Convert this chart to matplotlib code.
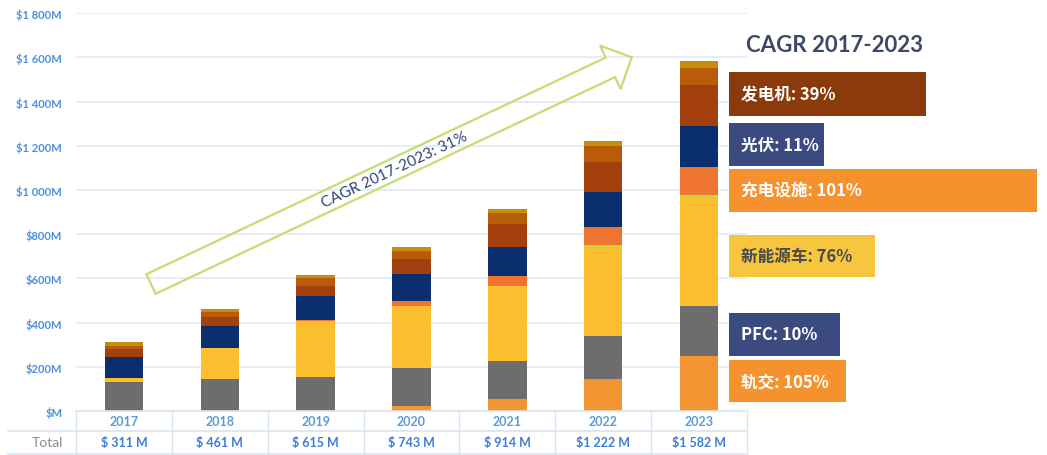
import numpy as np
import matplotlib
matplotlib.use("Agg")
import matplotlib.pyplot as plt
from matplotlib.patches import Rectangle, Polygon
from matplotlib.lines import Line2D
from matplotlib import transforms

plt.rcParams['font.family'] = ['Lato', 'Noto Sans CJK SC', 'DejaVu Sans']

# ---- data (US$ M) ----
years = ["2017", "2018", "2019", "2020", "2021", "2022", "2023"]
rail = [0, 0, 4, 24, 54, 144, 250]            # 轨交
pfc = [132, 144, 148, 169, 173, 196, 226]      # PFC
nev = [18, 139, 256, 280, 337, 403, 490]       # 新能源车
other = [0, 0, 0, 0, 0, 8, 12]                 # 其他
charging = [0, 0, 3, 26, 48, 80, 124]          # 充电设施
pv = [95, 103, 107, 121, 131, 161, 188]        # 光伏
gen_a = [33, 37, 47, 67, 103, 137, 186]        # 发电机 (a)
gen_b = [18, 26, 36, 38, 50, 71, 75]           # 发电机 (b)
gen_c = [15, 12, 14, 18, 18, 22, 31]           # 发电机 (c)

series = [rail, pfc, nev, other, charging, pv, gen_a, gen_b, gen_c]
series_colors = ["#F39433", "#6D6D6D", "#FBBE2E", "#C3D83C", "#EE7430",
                 "#0B2F6E", "#A3400D", "#B85C0A", "#C68E0C"]

cagr_names = ["发电机", "光伏", "充电设施", "新能源车", "PFC", "轨交"]
cagr_values = [39, 11, 101, 76, 10, 105]

totals = np.sum(np.array(series), axis=0)

# ---- figure ----
W, H = 1047, 456
fig = plt.figure(figsize=(W / 100, H / 100), dpi=100)
fig.patch.set_facecolor("white")


def fx(px):
    return px / W


def fy(py):
    return 1 - py / H


ax_left, ax_right, ax_top, ax_bottom = 76, 747, 14.3, 411.9
ax = fig.add_axes([fx(ax_left), fy(ax_bottom), fx(ax_right - ax_left),
                   (ax_bottom - ax_top) / H])
ax.set_xlim(-0.5, len(years) - 0.5)
ax.set_ylim(0, 1800)
for s in ax.spines.values():
    s.set_visible(False)
ax.set_xticks([])
yt = list(range(0, 1801, 200))
ax.set_yticks(yt)


def money(v):
    if v == 0:
        return "\\$M"
    if v >= 1000:
        return "\\$1 %03dM" % (v - 1000)
    return "\\$%dM" % v


ax.set_yticklabels([money(v) for v in yt])
ax.tick_params(axis="y", length=0, pad=10, labelsize=8, labelcolor="#4A8FE0")
for lab in ax.get_yticklabels():
    lab.set_fontweight("bold")
for v in yt[1:]:
    ax.axhline(v, color="#E4EEF8", lw=1.4, zorder=0)

x = np.arange(len(years))
bottom = np.zeros(len(years))
for vals, col in zip(series, series_colors):
    ax.bar(x, vals, bottom=bottom, width=0.4, color=col, linewidth=0, zorder=2)
    bottom += np.array(vals)

# ---- table under the bars ----
line_col = "#D8E5F3"
col_w = (ax_right - ax_left) / len(years)
fig.add_artist(Line2D([fx(ax_left), fx(ax_right)], [fy(ax_bottom)] * 2,
                      color=line_col, lw=1.2, transform=fig.transFigure))
for yy in (431.7, 455):
    fig.add_artist(Line2D([fx(8), fx(ax_right)], [fy(yy)] * 2,
                          color=line_col, lw=1.2, transform=fig.transFigure))
for k in range(len(years) + 1):
    xx = ax_left + k * col_w
    fig.add_artist(Line2D([fx(xx)] * 2, [fy(ax_bottom), fy(456)],
                          color=line_col, lw=1.0, transform=fig.transFigure))

tr = transforms.blended_transform_factory(ax.transData, fig.transFigure)


def total_label(v):
    v = int(round(v))
    if v >= 1000:
        return "\\$%d %03d M" % (v // 1000, v % 1000)
    return "\\$ %d M" % v


for i, yr in enumerate(years):
    fig.text(i, fy(421.7), yr, transform=tr, ha="center", va="center",
             fontsize=9, color="#5C9BDB", fontweight="bold")
    fig.text(i, fy(443.5), total_label(totals[i]), transform=tr, ha="center",
             va="center", fontsize=9, color="#3B7DD8", fontweight="bold")
fig.text(fx(47), fy(443.5), "Total", ha="center", va="center", fontsize=10,
         color="#8C8C8C")

# ---- overall growth arrow ----
def to_fig(pts):
    return [(fx(px), fy(py)) for px, py in pts]


tail = np.array([151.0, 285.0])
tip = np.array([631.7, 58.3])
u = (tip - tail) / np.linalg.norm(tip - tail)
n = np.array([-u[1], u[0]])
shaft_hw, head_hw, head_len = 10.8, 24.0, 23.6
base = tip - u * head_len
arrow_pts = [tail - n * shaft_hw, base - n * shaft_hw, base - n * head_hw, tip,
             base + n * head_hw, base + n * shaft_hw, tail + n * shaft_hw]
fig.add_artist(Polygon(to_fig(arrow_pts), closed=True, facecolor="none",
                       edgecolor="#C9DB72", lw=1.6, transform=fig.transFigure,
                       zorder=5))
cagr_total = (totals[-1] / totals[0]) ** (1 / (len(years) - 1)) - 1
angle = np.degrees(np.arctan2(-(tip[1] - tail[1]), tip[0] - tail[0]))
fig.text(fx(394.5), fy(170.5), "CAGR %s-%s: %d%%" % (years[0], years[-1],
                                                    round(cagr_total * 100)),
         rotation=angle, rotation_mode="anchor", ha="center", va="center",
         fontsize=11, color="#2F4676", zorder=6)

# ---- segment CAGR boxes ----
fig.text(fx(835), fy(45), "CAGR %s-%s" % (years[0], years[-1]), ha="center",
         va="center", fontsize=16, color="#3B4868", fontweight="bold")

box_x = 729
box_rows = [  # (top, bottom, right edge, face colour, text colour)
    (73, 117, 926, "#8B3A0B", "white"),
    (124, 167, 824, "#3B4A7F", "white"),
    (170, 213, 1037, "#F5922E", "white"),
    (236, 278, 875, "#F6C63E", "#4A4A4A"),
    (314, 357, 840, "#3B4A7F", "white"),
    (361, 403, 846, "#F5922E", "white"),
]
for name, val, (top, bot, right, fc, tc) in zip(cagr_names, cagr_values, box_rows):
    fig.add_artist(Rectangle((fx(box_x), fy(bot)), fx(right - box_x),
                             (bot - top) / H, facecolor=fc, edgecolor="none",
                             transform=fig.transFigure, zorder=4))
    fig.text(fx(box_x + 12), fy((top + bot) / 2), "%s: %d%%" % (name, val),
             ha="left", va="center", fontsize=12, color=tc,
             fontweight="bold", family=["Noto Sans CJK SC", "DejaVu Sans"],
             zorder=6)

fig.savefig("out.png", dpi=100)
